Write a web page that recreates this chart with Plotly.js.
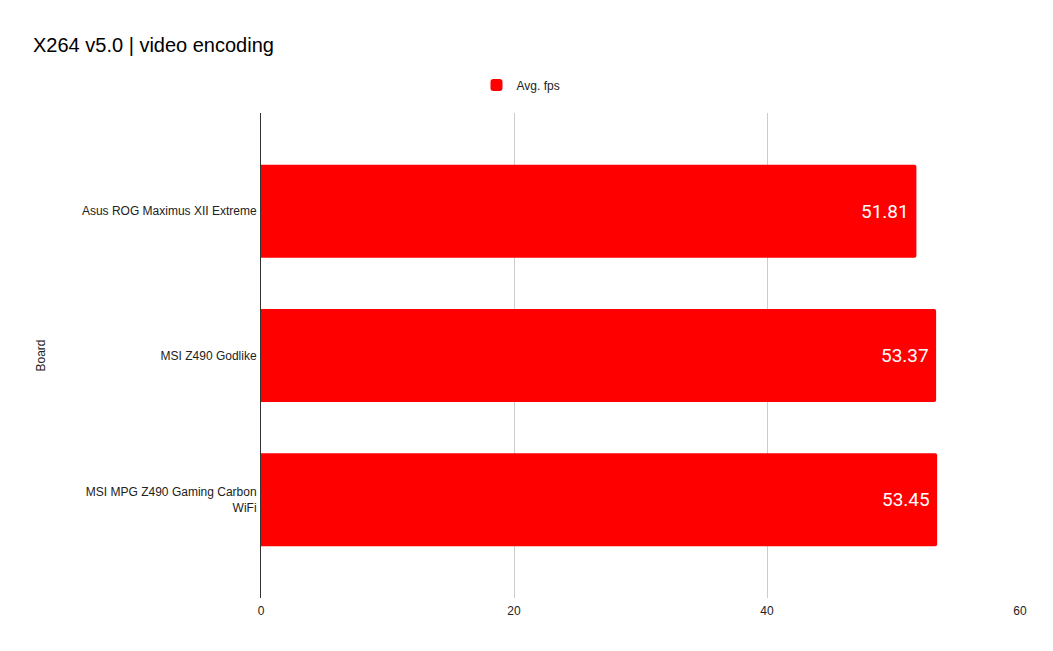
<!DOCTYPE html>
<html><head><meta charset="utf-8">
<script src="https://cdn.plot.ly/plotly-3.0.1.min.js"></script>
<style>html,body{margin:0;padding:0;background:#fff}#c{width:1053px;height:651px}</style>
</head><body><div id="c"></div>
<script>
const boards = ["Asus ROG Maximus XII Extreme", "MSI Z490 Godlike", "MSI MPG Z490 Gaming Carbon<br>WiFi"];
const avgFps = [51.81, 53.37, 53.45];
const seriesName = "Avg. fps";
const xTicks = [0, 20, 40, 60];

const trace = {
  type: 'bar', orientation: 'h', name: seriesName,
  y: boards, x: avgFps,
  marker: {color: '#ff0000', cornerradius: 2},
  showlegend: true, hoverinfo: 'x+y'
};

const valueLabels = avgFps.map((v, i) => ({
  x: v, y: boards[i], xref: 'x', yref: 'y', text: v.toFixed(2),
  xanchor: 'right', yanchor: 'middle', xshift: -5, showarrow: false,
  font: {family: 'Roboto, sans-serif', size: 19, color: '#ffffff'}
}));

const layout = {
  width: 1053, height: 651,
  margin: {l: 261, r: 33, t: 113, b: 53},
  paper_bgcolor: '#fff', plot_bgcolor: '#fff',
  font: {family: 'Liberation Sans, Arial, sans-serif', size: 12, color: '#222'},
  title: {text: 'X264 v5.0 | video encoding', x: 33/1053, xanchor: 'left', xref: 'container',
          y: 1 - 45/651, yanchor: 'middle', yref: 'container',
          font: {family: 'Liberation Sans, Arial, sans-serif', size: 20, color: '#000'}},
  showlegend: true,
  legend: {orientation: 'h', x: 521/1053, xanchor: 'center', xref: 'container',
           y: 1 - 85/651, yanchor: 'middle', yref: 'container',
           font: {size: 12, color: '#222'}},
  bargap: 0.356,
  xaxis: {range: [0, 60], tickvals: xTicks, ticktext: xTicks.map(String),
          showgrid: true, gridcolor: '#cccccc', gridwidth: 1, zeroline: false,
          showline: false, ticks: '', tickfont: {size: 12, color: '#222'}, ticklabelstandoff: 4},
  yaxis: {type: 'category', range: [2.68, -0.68], autorange: false, showline: true, linecolor: '#333', linewidth: 1,
          ticks: '', showgrid: false, tickfont: {size: 12, color: '#222'}, ticklabelstandoff: 1},
  annotations: [{text: 'Board', textangle: -90, xref: 'paper', yref: 'paper',
                 x: (40 - 261)/759, y: 0.5, xanchor: 'center', yanchor: 'middle',
                 showarrow: false, font: {size: 12, color: '#222'}}].concat(valueLabels)
};
Plotly.newPlot('c', [trace], layout, {displayModeBar: false, staticPlot: true});
</script></body></html>
